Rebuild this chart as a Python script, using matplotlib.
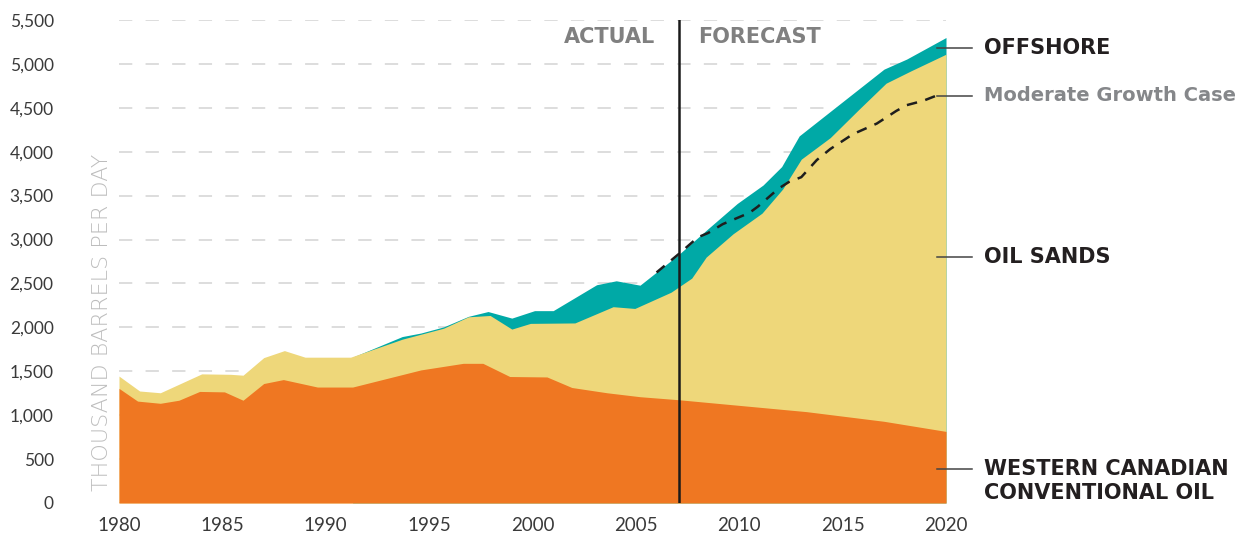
import matplotlib
matplotlib.use("Agg")
import matplotlib.pyplot as plt
import numpy as np

# cumulative tops of each layer (thousand barrels per day)
conv_years = [1980, 1980.9, 1982, 1982.9, 1983.9, 1985.1, 1986, 1987, 1987.95, 1989.6,
              1991.3, 1994.6, 1996.65, 1997.6, 1998.9, 2000.7, 2001.9, 2003.6, 2005.2,
              2007.1, 2013.25, 2017, 2020]
conv_top = [1305, 1160, 1135, 1170, 1270, 1265, 1170, 1360, 1405, 1320,
            1320, 1515, 1590, 1590, 1440, 1435, 1315, 1255, 1210,
            1175, 1040, 930, 815]

sands_years = [1980, 1981, 1982, 1984, 1985.4, 1986, 1987, 1988, 1989, 1991.2,
               1993.7, 1995.7, 1996.9, 1997.95, 1999.0, 1999.9, 2002.05, 2003.9, 2004.95,
               2006.7, 2007.7, 2008.4, 2009.7, 2011.1, 2012.1, 2013.0, 2014.4, 2015.8,
               2017.1, 2018.3, 2020]
sands_top = [1445, 1275, 1255, 1470, 1465, 1455, 1655, 1735, 1660, 1660,
             1865, 1990, 2120, 2135, 1980, 2045, 2050, 2235, 2215,
             2400, 2560, 2800, 3065, 3300, 3575, 3915, 4160, 4485,
             4780, 4920, 5110]

off_years = [1991.3, 1993.7, 1994.6, 1995.7, 1996.9, 1997.85, 1999.0, 2000.1, 2001.0,
             2003.1, 2004.05, 2005.2, 2007.05, 2008.5, 2009.9, 2011.15, 2012.05, 2012.9,
             2017.0, 2018.1, 2020]
off_top = [1660, 1895, 1935, 2005, 2125, 2180, 2105, 2190, 2190,
           2485, 2530, 2480, 2825, 3125, 3410, 3620, 3830, 4180,
           4940, 5055, 5300]

mod_years = [2006.0, 2007.1, 2008.0, 2008.5, 2009.2, 2010.5, 2010.9, 2011.9, 2012.4,
             2013.0, 2013.75, 2014.4, 2015.5, 2016.65, 2017.6, 2018.1, 2018.9, 2019.5]
mod_vals = [2625, 2840, 3025, 3075, 3175, 3305, 3375, 3580, 3655,
            3710, 3905, 4030, 4200, 4320, 4465, 4530, 4580, 4635]

forecast_start = 2007.1
x_ticks = [1980, 1985, 1990, 1995, 2000, 2005, 2010, 2015, 2020]
y_ticks = list(range(0, 5501, 500))

labels = ['OFFSHORE', 'Moderate Growth Case', 'OIL SANDS', 'WESTERN CANADIAN\nCONVENTIONAL OIL']
label_y = [5185, 4635, 2800, 387]
label_colors = ['#231f20', '#85878a', '#231f20', '#231f20']

ORANGE = '#ef7722'
YELLOW = '#eed77a'
TEAL = '#00a9a6'

fig = plt.figure(figsize=(12.59, 5.38), dpi=100)
ax = fig.add_axes([0.0945, 0.0651, 0.6569, 0.8978])

ax.fill_between(off_years, 0, off_top, color=TEAL, lw=0)
ax.fill_between(sands_years, 0, sands_top, color=YELLOW, lw=0)
ax.fill_between(conv_years, 0, conv_top, color=ORANGE, lw=0)

ax.plot(mod_years, mod_vals, color='#1e1e1e', lw=1.8, linestyle=(0, (4.2, 3.4)),
        solid_capstyle='butt')

ax.axvline(forecast_start, color='#1a1a1a', lw=1.8, zorder=5)

ax.set_xlim(1980, 2020)
ax.set_ylim(0, 5500)
ax.set_xticks(x_ticks)
ax.set_yticks(y_ticks)
ax.set_yticklabels([f'{v:,}' for v in y_ticks])
ax.tick_params(length=0)
ax.tick_params(axis='y', pad=47)
ax.tick_params(axis='x', pad=10)
for lab in ax.get_yticklabels():
    lab.set_fontfamily('Lato')
    lab.set_fontsize(12.5)
    lab.set_color('#3a3a3a')
for lab in ax.get_xticklabels():
    lab.set_fontfamily('Lato')
    lab.set_fontsize(13.5)
    lab.set_color('#3a3a3a')

ax.grid(axis='y', color='#d3d3d3', lw=1.1, linestyle=(0, (8.7, 8.7)))
ax.set_axisbelow(True)
for s in ax.spines.values():
    s.set_visible(False)

ax.text(-0.021, 0.373, 'THOUSAND BARRELS PER DAY', transform=ax.transAxes,
        rotation=90, ha='center', va='center', fontsize=16,
        fontweight='light', color='#bdbdbd')

ax.text(forecast_start - 1.15, 5310, 'ACTUAL', ha='right', va='center',
        fontsize=15, fontweight='bold', color='#808080')
ax.text(forecast_start + 0.9, 5310, 'FORECAST', ha='left', va='center',
        fontsize=15, fontweight='bold', color='#808080')

for text, y, c in zip(labels, label_y, label_colors):
    ax.plot([2019.55, 2021.24], [y, y], color='#444444', lw=1.1, clip_on=False)
    size = 14 if text.startswith('Moderate') else 15
    if '\n' in text:
        ax.text(2021.84, y + 115, text, ha='left', va='top', fontsize=size,
                fontweight='bold', color=c, linespacing=1.25)
    else:
        ax.text(2021.84, y, text, ha='left', va='center', fontsize=size,
                fontweight='bold', color=c)

fig.savefig('out.png', dpi=100)
